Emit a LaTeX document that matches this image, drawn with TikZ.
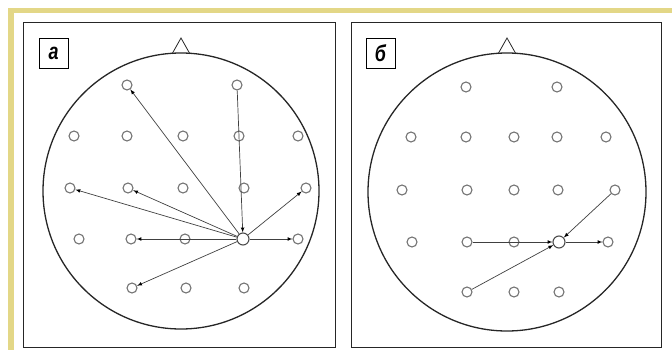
\documentclass[tikz,border=0pt]{standalone}
\usepackage{fontspec}
\setmainfont{Liberation Sans}
\usetikzlibrary{positioning}
\definecolor{frameyellow}{RGB}{227,215,135}

\tikzset{
  electrode/.style={circle, draw=black!55, line width=1.1pt, inner sep=0pt, minimum size=10pt},
  source/.style={electrode, draw=black!70, minimum size=12pt},
  head/.style={draw=black!85, line width=1.3pt},
  panel/.style={draw=black!85, line width=1pt},
  tag/.style={draw, line width=0.8pt, inner sep=0pt, minimum width=29pt, minimum height=30pt,
    font=\bfseries\itshape\fontsize{23}{23}\selectfont},
  link/.style={draw=black!75, line width=0.7pt}
}

\begin{document}
\begin{tikzpicture}[x=1pt, y=-1pt]

\useasboundingbox (0,0) rectangle (672,350);

% yellow frame
\fill[frameyellow] (8,8) rectangle (672,13);
\fill[frameyellow] (8,8) rectangle (14,350);

% panels
\draw[panel] (23,23) rectangle (335,347);
\draw[panel] (351,23) rectangle (661,347);
\node[tag] (taga) at (53.5,53) {\scalebox{0.78}[1]{а}};
\node[tag] (tagb) at (380.5,53) {\scalebox{0.78}[1]{б}};

% heads
\draw[head] (181,191) circle (138pt);
\draw[head, line width=0.8pt] (172,54) -- (181,38) -- (190,54);
\draw[head] (507,192) circle (139pt);
\draw[head, line width=0.8pt] (498,54) -- (507,38) -- (516,54);

% electrodes, panel a
\foreach \n/\x/\y in {1-1/127/85, 1-2/237/85,
    2-1/74/136, 2-2/127/136, 2-3/183/136, 2-4/239/136, 2-5/298/136,
    3-1/70/188, 3-2/128/188, 3-3/183/188, 3-4/244/188, 3-5/306/188,
    4-1/79/239, 4-2/131/239, 4-3/185/239, 4-5/298/239,
    5-1/132/288, 5-2/186/288, 5-3/244/288}
  \node[electrode] (a-\n) at (\x,\y) {};
\node[source] (a-4-4) at (243,239) {};

% electrodes, panel b
\foreach \n/\x/\y in {1-1/466/87, 1-2/557/87,
    2-1/411/137, 2-2/466/137, 2-3/514/137, 2-4/557/137, 2-5/606/137,
    3-1/402/190, 3-2/467/190, 3-3/514/190, 3-4/558/190, 3-5/615/190,
    4-1/412/242, 4-2/467/242, 4-3/514/242, 4-5/608/242,
    5-1/467/292, 5-2/514/292, 5-3/559/292}
  \node[electrode] (b-\n) at (\x,\y) {};
\node[source] (b-4-4) at (559,242) {};

% links
\draw[link, ->, >=latex]
(a-4-4) edge (a-1-1)
(a-1-2) edge (a-4-4)
(a-4-4) edge (a-3-1)
(a-4-4) edge (a-3-2)
(a-4-4) edge (a-3-5)
(a-4-4) edge (a-4-5)
(a-4-4) edge (a-4-2)
(a-4-4) edge (a-5-1);

\draw[link, ->, >=latex]
(b-4-2) edge (b-4-4)
(b-4-4) edge (b-4-5)
(b-5-1) edge (b-4-4)
(b-3-5) edge (b-4-4);

\end{tikzpicture}
\end{document}
